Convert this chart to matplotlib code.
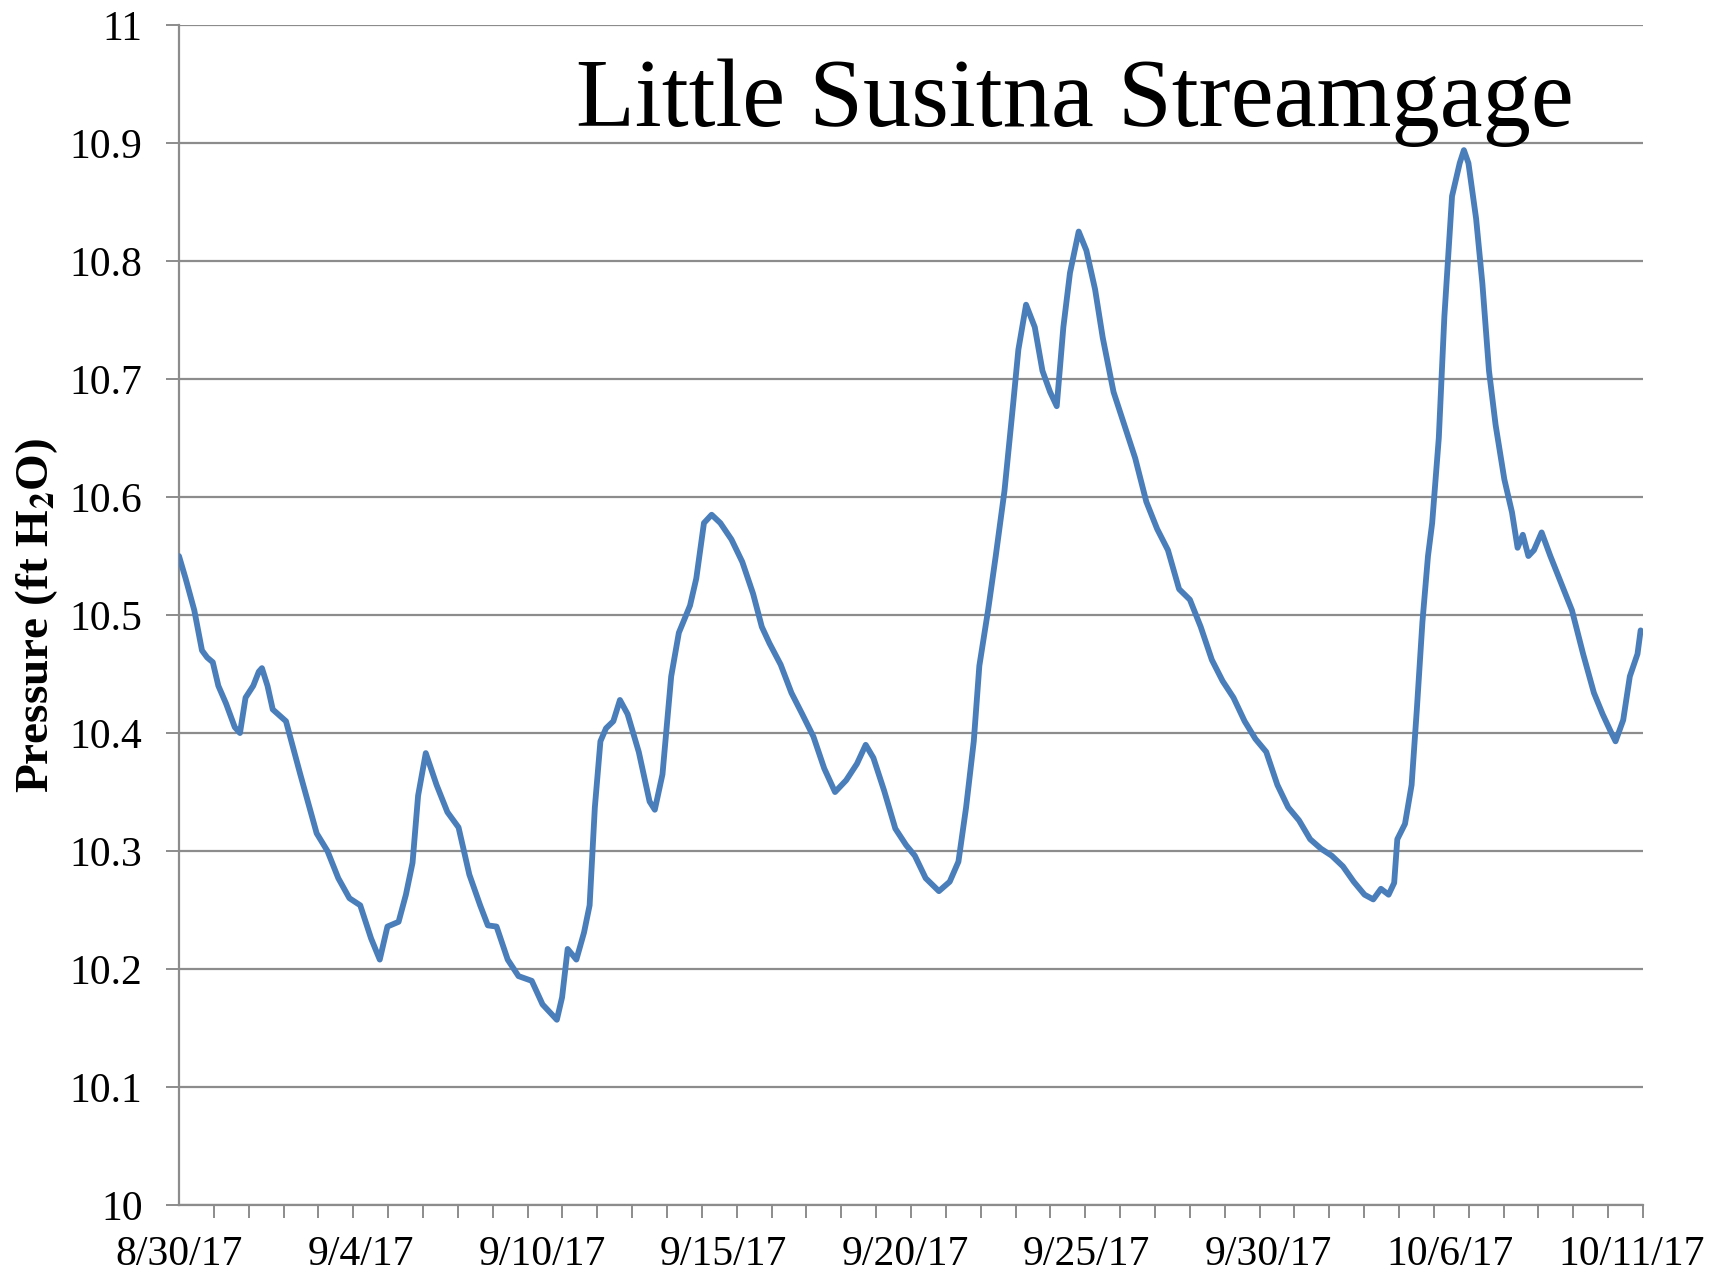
import numpy as np
import matplotlib.pyplot as plt

# days since 8/30/17 and gage pressure (ft H2O)
days = [0.00, 0.19, 0.44, 0.66, 0.81, 0.97, 1.13, 1.35, 1.60, 1.75, 1.91, 2.13, 2.29, 2.38,
        2.54, 2.69, 3.07, 3.48, 3.95, 4.26, 4.57, 4.89, 5.20, 5.51, 5.76, 5.98, 6.30, 6.51,
        6.70, 6.86, 7.08, 7.23, 7.39, 7.70, 8.02, 8.33, 8.64, 8.86, 9.11, 9.43, 9.74, 10.12,
        10.43, 10.84, 10.99, 11.15, 11.40, 11.62, 11.78, 11.93, 12.09, 12.25, 12.46, 12.65,
        12.87, 13.19, 13.50, 13.65, 13.87, 14.12, 14.34, 14.66, 14.84, 15.06, 15.28, 15.53,
        15.85, 16.16, 16.47, 16.72, 16.94, 17.26, 17.57, 17.88, 18.20, 18.51, 18.82, 19.14,
        19.45, 19.70, 19.92, 20.23, 20.55, 20.86, 21.11, 21.42, 21.80, 22.11, 22.36, 22.58,
        22.80, 22.96, 23.21, 23.43, 23.68, 23.93, 24.08, 24.30, 24.55, 24.77, 24.99, 25.18,
        25.37, 25.56, 25.81, 26.03, 26.28, 26.50, 26.81, 27.12, 27.43, 27.75, 28.06, 28.37,
        28.69, 29.00, 29.31, 29.63, 29.94, 30.25, 30.57, 30.88, 31.19, 31.51, 31.82, 32.13,
        32.45, 32.76, 33.07, 33.39, 33.70, 34.01, 34.26, 34.48, 34.70, 34.86, 34.95, 35.17,
        35.36, 35.51, 35.67, 35.83, 35.95, 36.14, 36.30, 36.52, 36.74, 36.86, 36.99, 37.21,
        37.39, 37.58, 37.77, 38.02, 38.24, 38.40, 38.55, 38.71, 38.87, 39.09, 39.34, 39.65,
        39.96, 40.28, 40.59, 40.84, 41.06, 41.21, 41.43, 41.62, 41.84, 41.93]
pressure = [10.550, 10.531, 10.504, 10.470, 10.464, 10.460, 10.440, 10.425, 10.405, 10.400,
            10.430, 10.440, 10.452, 10.455, 10.440, 10.420, 10.410, 10.365, 10.315, 10.300,
            10.277, 10.260, 10.254, 10.226, 10.208, 10.236, 10.240, 10.263, 10.290, 10.347,
            10.383, 10.370, 10.356, 10.333, 10.320, 10.280, 10.254, 10.237, 10.236, 10.208,
            10.194, 10.190, 10.170, 10.157, 10.176, 10.217, 10.208, 10.231, 10.254, 10.337,
            10.393, 10.404, 10.410, 10.428, 10.416, 10.384, 10.342, 10.335, 10.365, 10.448,
            10.485, 10.508, 10.531, 10.578, 10.585, 10.578, 10.564, 10.545, 10.518, 10.490,
            10.476, 10.458, 10.434, 10.416, 10.397, 10.370, 10.350, 10.360, 10.374, 10.390,
            10.379, 10.351, 10.319, 10.305, 10.296, 10.277, 10.266, 10.274, 10.291, 10.337,
            10.393, 10.457, 10.504, 10.550, 10.605, 10.679, 10.725, 10.763, 10.744, 10.707,
            10.689, 10.677, 10.744, 10.790, 10.825, 10.809, 10.776, 10.735, 10.689, 10.661,
            10.633, 10.596, 10.573, 10.555, 10.522, 10.513, 10.490, 10.462, 10.444, 10.430,
            10.410, 10.395, 10.384, 10.356, 10.337, 10.326, 10.310, 10.302, 10.296, 10.287,
            10.274, 10.263, 10.259, 10.268, 10.263, 10.273, 10.310, 10.323, 10.356, 10.420,
            10.494, 10.550, 10.578, 10.650, 10.753, 10.855, 10.883, 10.894, 10.883, 10.836,
            10.781, 10.707, 10.661, 10.615, 10.587, 10.557, 10.568, 10.550, 10.555, 10.570,
            10.550, 10.527, 10.504, 10.467, 10.434, 10.416, 10.402, 10.393, 10.411, 10.448,
            10.467, 10.487]

# date labels sit every ~5.2 days along the axis (not on the day ticks)
label_days = [0.0, 5.21, 10.41, 15.62, 20.83, 26.04, 31.24, 36.45, 41.66]
date_labels = ['8/30/17', '9/4/17', '9/10/17', '9/15/17', '9/20/17',
               '9/25/17', '9/30/17', '10/6/17', '10/11/17']
y_ticks = [10, 10.1, 10.2, 10.3, 10.4, 10.5, 10.6, 10.7, 10.8, 10.9, 11]
y_labels = ['10', '10.1', '10.2', '10.3', '10.4', '10.5', '10.6', '10.7', '10.8', '10.9', '11']

plt.rcParams['font.family'] = 'Liberation Serif'
plt.rcParams['mathtext.fontset'] = 'stix'

fig = plt.figure(figsize=(17.11, 12.78), dpi=100)
ax = fig.add_axes([0.1046, 0.0571, 0.8557, 0.9233])

grey = '#8c8c8c'
ax.plot(days, pressure, color='#4a7ebb', linewidth=4.2,
        solid_joinstyle='round', solid_capstyle='round', zorder=3)

ax.set_xlim(0, 42)
ax.set_ylim(10, 11)
ax.set_yticks(y_ticks)
ax.set_yticklabels(y_labels)
ax.set_xticks(label_days)
ax.set_xticklabels(date_labels)
ax.set_xticks(np.arange(0, 43), minor=True)

ax.grid(axis='y', color=grey, linewidth=1.6, zorder=1)
for side in ['top', 'right']:
    ax.spines[side].set_visible(False)
for side in ['left', 'bottom']:
    ax.spines[side].set_color(grey)
    ax.spines[side].set_linewidth(1.6)

ax.tick_params(axis='both', which='both', color=grey, width=1.4, direction='out')
ax.tick_params(axis='x', which='major', length=0, labelsize=30, pad=22)
ax.tick_params(axis='x', which='minor', length=9.4)
ax.tick_params(axis='y', length=9.2, labelsize=30, pad=17)

ax.set_ylabel(r'Pressure (ft H$_{\mathbf{2}}$O)', fontsize=34, fontweight='bold', va='center')
ax.yaxis.set_label_coords(-0.097, 0.5)

ax.text(0.612, 0.934, 'Little Susitna Streamgage', transform=ax.transAxes,
        fontsize=69.5, ha='center', va='center')

fig.savefig('out.png', dpi=100)
